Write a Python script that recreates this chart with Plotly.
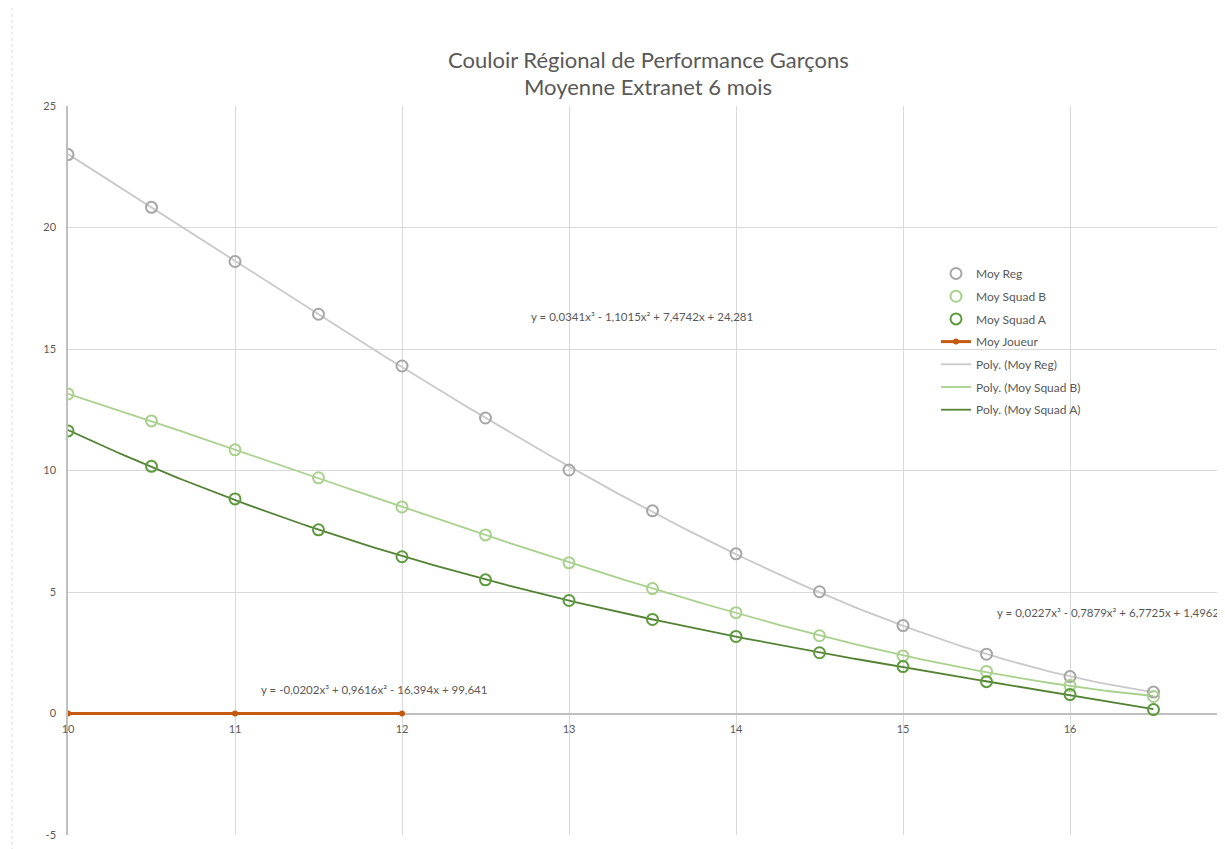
import numpy as np
import plotly.graph_objects as go

ages = [10, 10.5, 11, 11.5, 12, 12.5, 13, 13.5, 14, 14.5, 15, 15.5, 16, 16.5]
moy_reg = [23.0, 20.83, 18.6, 16.43, 14.3, 12.16, 10.02, 8.34, 6.57, 5.01, 3.62, 2.44, 1.52, 0.88]
moy_squad_b = [13.15, 12.04, 10.85, 9.7, 8.5, 7.35, 6.2, 5.14, 4.15, 3.2, 2.37, 1.73, 1.15, 0.7]
moy_squad_a = [11.63, 10.17, 8.83, 7.56, 6.45, 5.5, 4.65, 3.87, 3.17, 2.5, 1.93, 1.31, 0.78, 0.16]
joueur_ages = [10, 11, 12]
moy_joueur = [0, 0, 0]

x_ticks = [10, 11, 12, 13, 14, 15, 16]
y_ticks = [-5, 0, 5, 10, 15, 20, 25]
y_ticktext = ["-5", "0", "5", "10", "15", "20", "25"]

eq_reg = "y = 0,0341x³ - 1,1015x² + 7,4742x + 24,281"
eq_b = "y = 0,0227x³ - 0,7879x² + 6,7725x + 1,4962"
eq_a = "y = -0,0202x³ + 0,9616x² - 16,394x + 99,641"

title_lines = ["Couloir Régional de Performance Garçons", "Moyenne Extranet 6 mois"]

C_REG_M = "#A6A6A6"
C_REG_L = "#C9C9C9"
C_B = "#A9D18E"
C_A_M = "#5E9B3C"
C_A_L = "#548235"
C_J = "#C55A11"
FONT = "Lato"
TXT = "#595959"

OFF = 8  # page offset of the figure

fig = go.Figure()

def marker_trace(x, y, name, color):
    return go.Scatter(x=x, y=y, mode="markers", name=name, legendgroup=name,
                      marker=dict(symbol="circle-open", size=11, color=color,
                                  line=dict(width=2, color=color)))

xs = np.linspace(min(ages), max(ages), 200)
for ys, name, color in [(moy_reg, "Poly. (Moy Reg)", C_REG_L),
                        (moy_squad_b, "Poly. (Moy Squad B)", C_B),
                        (moy_squad_a, "Poly. (Moy Squad A)", C_A_L)]:
    coef = np.polyfit(ages, ys, 3)
    fig.add_trace(go.Scatter(x=xs, y=np.polyval(coef, xs), mode="lines", name=name,
                             legendgroup=name,
                             line=dict(color=color, width=1.8), hoverinfo="skip"))

fig.add_trace(marker_trace(ages, moy_reg, "Moy Reg", C_REG_M))
fig.add_trace(marker_trace(ages, moy_squad_b, "Moy Squad B", C_B))
fig.add_trace(marker_trace(ages, moy_squad_a, "Moy Squad A", C_A_M))
fig.add_trace(go.Scatter(x=joueur_ages, y=moy_joueur, mode="lines+markers", name="Moy Joueur",
                         legendgroup="Moy Joueur",
                         line=dict(color=C_J, width=3),
                         marker=dict(symbol="circle", size=6, color=C_J)))

W, H = 1225, 849
L = 68 - OFF
T = 106 - OFF
B = H - (835 - OFF)
R = OFF
PW = W - L - R
PH = H - T - B
xmax = 10 + PW / 167.0

def px(xpage):
    return (xpage - OFF - L) / PW

def py(ypage):
    return (H - B - (ypage - OFF)) / PH

eqfont = dict(size=11.5, color=TXT, family=FONT)
ann = [
    dict(x=13.44, y=16.35, text=eq_reg, showarrow=False, xref="x", yref="y", font=eqfont),
    dict(x=10 + (1222 - 68) / 167.0, y=4.15, text=eq_b, showarrow=False, xref="x", yref="y",
         xanchor="right", font=eqfont),
    dict(x=11.83, y=0.99, text=eq_a, showarrow=False, xref="x", yref="y", font=eqfont),
    dict(x=px(648), y=py(60), xref="paper", yref="paper", yanchor="middle", xanchor="center",
         text=title_lines[0], showarrow=False, font=dict(size=22, color=TXT, family=FONT)),
    dict(x=px(648), y=py(87), xref="paper", yref="paper", yanchor="middle", xanchor="center",
         text=title_lines[1], showarrow=False, font=dict(size=22, color=TXT, family=FONT)),
]

fig.update_layout(
    width=W, height=H,
    margin=dict(l=L, r=R, t=T, b=B),
    paper_bgcolor="white", plot_bgcolor="white",
    showlegend=True,
    legend=dict(x=px(936), y=py(259), xanchor="left", yanchor="top",
                bgcolor="rgba(0,0,0,0)", font=dict(size=12, color=TXT, family=FONT),
                traceorder="grouped", tracegroupgap=3.7, itemwidth=30),
    annotations=ann,
    font=dict(family=FONT, color=TXT),
    xaxis=dict(range=[10, xmax], tickvals=x_ticks,
               showgrid=True, gridcolor="#D9D9D9", gridwidth=1, layer="below traces",
               zeroline=False, showline=True, linecolor="#BFBFBF", linewidth=1.5,
               anchor="free", position=1 / 6, ticks="", ticklen=0, ticklabelstandoff=6,
               tickfont=dict(size=11, color=TXT, family=FONT)),
    yaxis=dict(range=[-5, 25], tickvals=y_ticks, ticktext=y_ticktext,
               showgrid=True, gridcolor="#D9D9D9", gridwidth=1, layer="below traces",
               zeroline=False, showline=True, linecolor="#BFBFBF", linewidth=1.5,
               ticks="", ticklabelstandoff=8,
               tickfont=dict(size=11, color=TXT, family=FONT)),
    shapes=[dict(type="line", xref="paper", yref="paper", x0=px(12), x1=px(12),
                 y0=-0.03, y1=1.15, line=dict(color="#D9D9D9", width=1, dash="dot"))],
)

order = ["Moy Reg", "Moy Squad B", "Moy Squad A", "Moy Joueur",
         "Poly. (Moy Reg)", "Poly. (Moy Squad B)", "Poly. (Moy Squad A)"]
for tr in fig.data:
    tr.legendrank = order.index(tr.name) + 1

fig.write_html("out.html")
